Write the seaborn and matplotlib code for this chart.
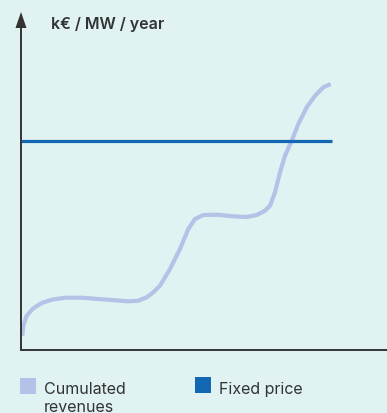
import matplotlib
matplotlib.use("Agg")
import matplotlib.pyplot as plt
import seaborn as sns
import pandas as pd
from matplotlib.patches import Rectangle, Polygon

# ---- data (arbitrary units) ----
rev_x = [1.3, 2.3, 5.7, 12.3, 20.7, 30.7, 44, 60.7, 77.3, 94, 107.3, 117.3, 125.7,
         132.3, 139, 149, 159, 167.3, 174, 182.3, 195.7, 212.3, 225.7, 235.7, 244,
         249, 254, 259, 264, 270.7, 277.3, 285.7, 294, 302.3, 309.7]
rev_y = [14.3, 24.3, 34.3, 41.7, 47, 50.3, 52.3, 52.3, 51, 49.7, 48.7, 49.3, 52.7,
         57.7, 64.3, 81, 101, 121, 131, 135, 135.3, 133.7, 133, 135, 139.3,
         144.3, 157.7, 177.7, 194.3, 209.3, 226, 242.7, 254.3, 262.7, 266]
fixed_x = [0, 311]
fixed_y = [209, 209]

series_names = ["Cumulated revenues", "Fixed price"]
legend_lines = ["Cumulated", "revenues"]
fixed_label = "Fixed price"
y_label = "k€ / MW / year"

BG = "#e0f2f2"
LAV = "#b3c2e6"
BLUE = "#1467b3"
TXT = "#333333"

sns.set_style("white")
plt.rcParams["font.family"] = ["Inter", "DejaVu Sans"]

df = pd.concat([
    pd.DataFrame({"x": rev_x, "y": rev_y, "series": series_names[0]}),
    pd.DataFrame({"x": fixed_x, "y": fixed_y, "series": series_names[1]}),
])

W, H = 387, 414
fig = plt.figure(figsize=(W / 100, H / 100), dpi=100, facecolor=BG)
ax = fig.add_axes([21 / W, (H - 351) / H, 366 / W, 338 / H])
ax.set_facecolor(BG)

sns.lineplot(data=df[df.series == series_names[0]], x="x", y="y", color=LAV,
             lw=3.0, ax=ax, sort=False, legend=False, solid_capstyle="butt",
             solid_joinstyle="round")
sns.lineplot(data=df[df.series == series_names[1]], x="x", y="y", color=BLUE,
             lw=2.3, ax=ax, sort=False, legend=False, solid_capstyle="butt")

ax.set_xlim(0, 366)
ax.set_ylim(0, 338)
ax.set_xticks([])
ax.set_yticks([])
ax.set_xlabel("")
ax.set_ylabel("")
for s in ["top", "right", "left"]:
    ax.spines[s].set_visible(False)
ax.spines["bottom"].set_color(TXT)
ax.spines["bottom"].set_linewidth(1.4)

# y axis with arrow
ax.plot([0, 0], [0, 323], color=TXT, lw=1.4, clip_on=False, solid_capstyle="butt")
ax.add_patch(Polygon([[0, 338], [-5.5, 322], [5.5, 322]], closed=True,
                     color=TXT, clip_on=False, lw=0))

ax.text(30, 327, y_label, fontsize=11.5, fontweight="semibold", color=TXT,
        ha="left", va="center")

# legend drawn manually
fig.add_artist(Rectangle((20 / W, (H - 394.5) / H), 15.5 / W, 15.5 / H,
                         transform=fig.transFigure, color=LAV, lw=0))
fig.add_artist(Rectangle((195 / W, (H - 394) / H), 16 / W, 16 / H,
                         transform=fig.transFigure, color=BLUE, lw=0))
fig.text(44 / W, (H - 394) / H, legend_lines[0], fontsize=11.5, color=TXT,
         ha="left", va="baseline")
fig.text(44 / W, (H - 412.5) / H, legend_lines[1], fontsize=11.5, color=TXT,
         ha="left", va="baseline")
fig.text(219 / W, (H - 394) / H, fixed_label, fontsize=11.5, color=TXT,
         ha="left", va="baseline")

fig.savefig("out.png", dpi=100, facecolor=BG)
